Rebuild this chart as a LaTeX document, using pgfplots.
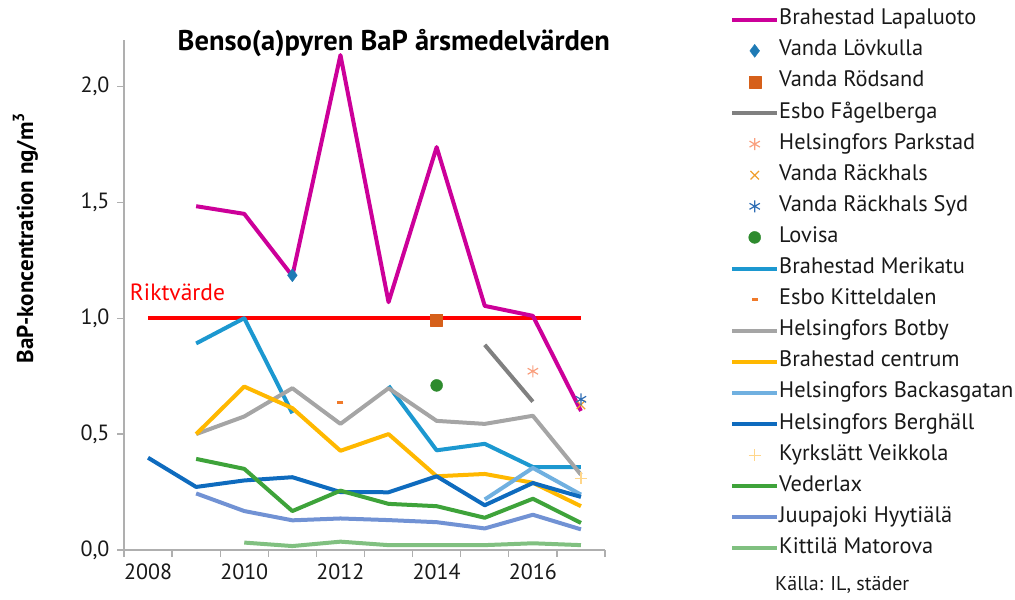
\documentclass[border=0pt]{standalone}
\usepackage{fontspec}
\setmainfont{PT Sans}
\usepackage{pgfplots}
\pgfplotsset{compat=1.18}
\definecolor{axisgray}{HTML}{AFAFAF}
\definecolor{cLap}{HTML}{CC0099}
\definecolor{cLov}{HTML}{1E7AB5}
\definecolor{cRod}{HTML}{D6601A}
\definecolor{cFag}{HTML}{808080}
\definecolor{cPark}{HTML}{F9A07F}
\definecolor{cRack}{HTML}{F0A030}
\definecolor{cRackS}{HTML}{2E6DB4}
\definecolor{cLovisa}{HTML}{2E8B2E}
\definecolor{cMeri}{HTML}{1C98D0}
\definecolor{cKitt}{HTML}{F07A2A}
\definecolor{cBotby}{HTML}{A5A5A5}
\definecolor{cCent}{HTML}{FFB800}
\definecolor{cBack}{HTML}{70B0E0}
\definecolor{cBerg}{HTML}{0E6BBE}
\definecolor{cKyrk}{HTML}{FFD68A}
\definecolor{cVed}{HTML}{3EA33A}
\definecolor{cJuu}{HTML}{7192D4}
\definecolor{cKitti}{HTML}{80C080}
\newcommand{\fs}{\fontsize{22.4bp}{26bp}\selectfont}
\begin{document}
\begin{tikzpicture}
\path[use as bounding box] (0,0) rectangle (1015bp,600bp);
\begin{axis}[
  at={(124bp,50bp)}, anchor=south west,
  scale only axis, width=481bp, height=510bp,
  xmin=2007.5, xmax=2017.5, ymin=0, ymax=2.2,
  clip=false,
  axis x line*=bottom, axis y line*=left,
  axis line style={draw=axisgray, line width=1.2bp, -},
  tick align=outside,
  xtick={2008,2010,2012,2014,2016},
  xticklabels={2008,2010,2012,2014,2016},
  minor xtick={2007.5,2008.5,...,2017.5},
  major x tick style={draw=none},
  minor x tick style={draw=axisgray, line width=1.2bp},
  minor tick length=7bp,
  ytick={0,0.5,1,1.5,2},
  yticklabels={{0,0},{0,5},{1,0},{1,5},{2,0}},
  y tick style={draw=axisgray, line width=1.2bp},
  major tick length=7bp,
  tick label style={font=\fontsize{22bp}{26bp}\selectfont, text=black!90},
  xticklabel style={yshift=-3bp},
  yticklabel style={xshift=-4bp},
  /pgf/number format/assume math mode=true,
  unbounded coords=jump,
  ylabel={\bfseries BaP-koncentration ng/m\textsuperscript{3}},
  ylabel style={at={(axis description cs:-0.205,0.612)}, anchor=center, font=\fontsize{23bp}{27bp}\selectfont},
  legend style={at={(1.2599,1.0598)}, anchor=north west, draw=none, fill=none,
    inner sep=0pt, font=\fs, text=black!90, row sep=11.1bp,
    nodes={text height=15bp, text depth=5bp, inner sep=0pt},
    /tikz/every odd column/.append style={column sep=0bp}},
  legend cell align=left,
  legend image code/.code={\draw[mark repeat=2,mark phase=2,#1] plot coordinates {(0bp,0bp) (22.5bp,0bp) (45bp,0bp)};},
  every axis plot/.append style={line join=round},
]
% Riktvarde
\addplot[draw=red, line width=4.5bp, forget plot] coordinates {(2008,1) (2017,1)};
% 1 Brahestad Lapaluoto
\addplot[cLap, line width=4bp, no marks] coordinates {(2009,1.483) (2010,1.45) (2011,1.182) (2012,2.135) (2013,1.069) (2014,1.738) (2015,1.053) (2016,1.01) (2017,0.60)};
\addlegendentry{Brahestad Lapaluoto}
% 2 Vanda Lovkulla
\addplot[only marks, mark=diamond*, mark size=6.5bp, color=cLov] coordinates {(2011,1.185)};
\addlegendentry{Vanda Lövkulla}
% 3 Vanda Rodsand
\addplot[only marks, mark=square*, mark size=6bp, color=cRod] coordinates {(2014,0.99)};
\addlegendentry{Vanda Rödsand}
% 4 Esbo Fagelberga
\addplot[cFag, line width=4bp, no marks] coordinates {(2015,0.885) (2016,0.64)};
\addlegendentry{Esbo Fågelberga}
% 5 Helsingfors Parkstad
\addplot[only marks, mark=asterisk, mark size=6bp, color=cPark, line width=1.2bp] coordinates {(2016,0.771)};
\addlegendentry{Helsingfors Parkstad}
% 6 Vanda Rackhals
\addplot[only marks, mark=x, mark size=6bp, color=cRack, line width=1.2bp] coordinates {(2017,0.626)};
\addlegendentry{Vanda Räckhals}
% 7 Vanda Rackhals Syd
\addplot[only marks, mark=asterisk, mark size=6bp, color=cRackS, line width=1.2bp] coordinates {(2017,0.65)};
\addlegendentry{Vanda Räckhals Syd}
% 8 Lovisa
\addplot[only marks, mark=*, mark size=6bp, color=cLovisa] coordinates {(2014,0.71)};
\addlegendentry{Lovisa}
% 9 Brahestad Merikatu
\addplot[cMeri, line width=4bp, no marks] coordinates {(2009,0.891) (2010,1.0) (2011,0.59) (2012,nan) (2013,0.708) (2014,0.43) (2015,0.458) (2016,0.358) (2017,0.358)};
\addlegendentry{Brahestad Merikatu}
% 10 Esbo Kitteldalen
\addplot[only marks, mark=-, mark size=3bp, color=cKitt, line width=3bp] coordinates {(2012,0.636)};
\addlegendentry{Esbo Kitteldalen}
% 11 Helsingfors Botby
\addplot[cBotby, line width=4bp, no marks] coordinates {(2009,0.5) (2010,0.576) (2011,0.698) (2012,0.544) (2013,0.698) (2014,0.557) (2015,0.544) (2016,0.579) (2017,0.325)};
\addlegendentry{Helsingfors Botby}
% 12 Brahestad centrum
\addplot[cCent, line width=4bp, no marks] coordinates {(2009,0.5) (2010,0.705) (2011,0.612) (2012,0.428) (2013,0.5) (2014,0.318) (2015,0.328) (2016,0.29) (2017,0.189)};
\addlegendentry{Brahestad centrum}
% 13 Helsingfors Backasgatan
\addplot[cBack, line width=4bp, no marks] coordinates {(2015,0.218) (2016,0.354) (2017,0.239)};
\addlegendentry{Helsingfors Backasgatan}
% 14 Helsingfors Berghall
\addplot[cBerg, line width=4bp, no marks] coordinates {(2008,0.398) (2009,0.272) (2010,0.30) (2011,0.314) (2012,0.25) (2013,0.249) (2014,0.318) (2015,0.193) (2016,0.289) (2017,0.229)};
\addlegendentry{Helsingfors Berghäll}
% 15 Kyrkslatt Veikkola
\addplot[only marks, mark=+, mark size=6bp, color=cKyrk, line width=1.2bp] coordinates {(2017,0.31)};
\addlegendentry{Kyrkslätt Veikkola}
% 16 Vederlax
\addplot[cVed, line width=4bp, no marks] coordinates {(2009,0.393) (2010,0.35) (2011,0.168) (2012,0.256) (2013,0.199) (2014,0.189) (2015,0.139) (2016,0.221) (2017,0.117)};
\addlegendentry{Vederlax}
% 17 Juupajoki Hyytiala
\addplot[cJuu, line width=4bp, no marks] coordinates {(2009,0.244) (2010,0.168) (2011,0.128) (2012,0.136) (2013,0.129) (2014,0.12) (2015,0.093) (2016,0.152) (2017,0.089)};
\addlegendentry{Juupajoki Hyytiälä}
% 18 Kittila Matorova
\addplot[cKitti, line width=4bp, no marks] coordinates {(2010,0.032) (2011,0.017) (2012,0.036) (2013,0.021) (2014,0.021) (2015,0.021) (2016,0.029) (2017,0.021)};
\addlegendentry{Kittilä Matorova}
% texts
\node[anchor=west, text=red, font=\fontsize{23.5bp}{27bp}\selectfont, inner sep=0pt] at (axis cs:2007.62,1.11) {Riktvärde};
\node[anchor=center, font=\bfseries\fontsize{28.5bp}{32bp}\selectfont, inner sep=0pt] at (axis description cs:0.561,0.994) {Benso(a)pyren BaP årsmedelvärden};
\node[anchor=west, font=\fontsize{20bp}{23bp}\selectfont, text=black!90, inner sep=0pt] at (axis description cs:1.3534,-0.0686) {Källa: IL, städer};
\end{axis}
\end{tikzpicture}
\end{document}
